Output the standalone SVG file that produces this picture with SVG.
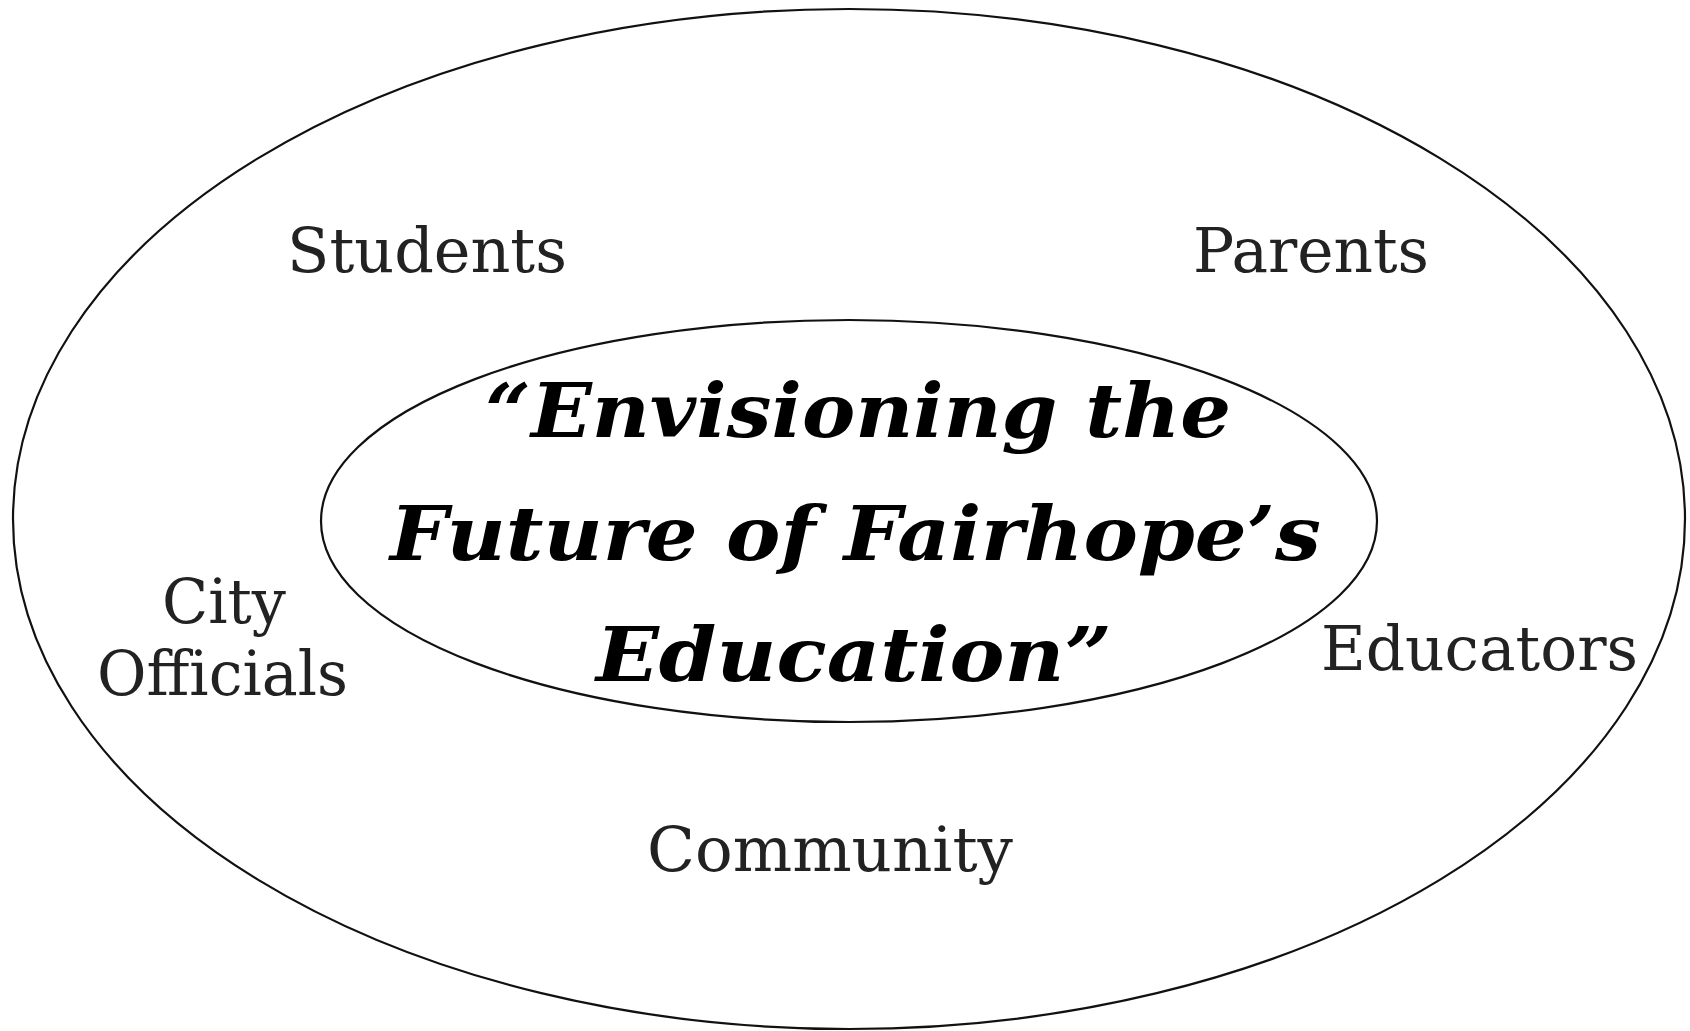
<svg xmlns="http://www.w3.org/2000/svg" width="1690" height="1031" viewBox="0 0 1690 1031">
<style>
.ring{fill:none;stroke:#111;stroke-width:2.2}
.lbl{font-family:"DejaVu Serif","Liberation Serif",serif;font-size:62px;fill:#222}
.title{font-family:"DejaVu Serif","Liberation Serif",serif;font-weight:bold;font-style:italic;font-size:74px;fill:#000}
</style>
<rect width="1690" height="1031" fill="#fff"/>
<g id="outer"><ellipse class="ring" cx="849" cy="519" rx="836" ry="510"/></g>
<g id="inner">
<ellipse class="ring" cx="849" cy="521" rx="528" ry="201"/>
<text class="title" x="485" y="437" textLength="746" lengthAdjust="spacingAndGlyphs">“Envisioning the</text>
<text class="title" x="390" y="560" textLength="931" lengthAdjust="spacingAndGlyphs">Future of Fairhope’s</text>
<text class="title" x="596" y="681" textLength="516" lengthAdjust="spacingAndGlyphs">Education”</text>
</g>
<g id="students"><text class="lbl" x="287" y="272" textLength="280" lengthAdjust="spacingAndGlyphs">Students</text></g>
<g id="parents"><text class="lbl" x="1193" y="272" textLength="236" lengthAdjust="spacingAndGlyphs">Parents</text></g>
<g id="city-officials">
<text class="lbl" x="162" y="623" textLength="124" lengthAdjust="spacingAndGlyphs">City</text>
<text class="lbl" x="97" y="695" textLength="251" lengthAdjust="spacingAndGlyphs">Officials</text>
</g>
<g id="educators"><text class="lbl" x="1321" y="670" textLength="317" lengthAdjust="spacingAndGlyphs">Educators</text></g>
<g id="community"><text class="lbl" x="647" y="871" textLength="366" lengthAdjust="spacingAndGlyphs">Community</text></g>
<g id="connectors"/>
</svg>
